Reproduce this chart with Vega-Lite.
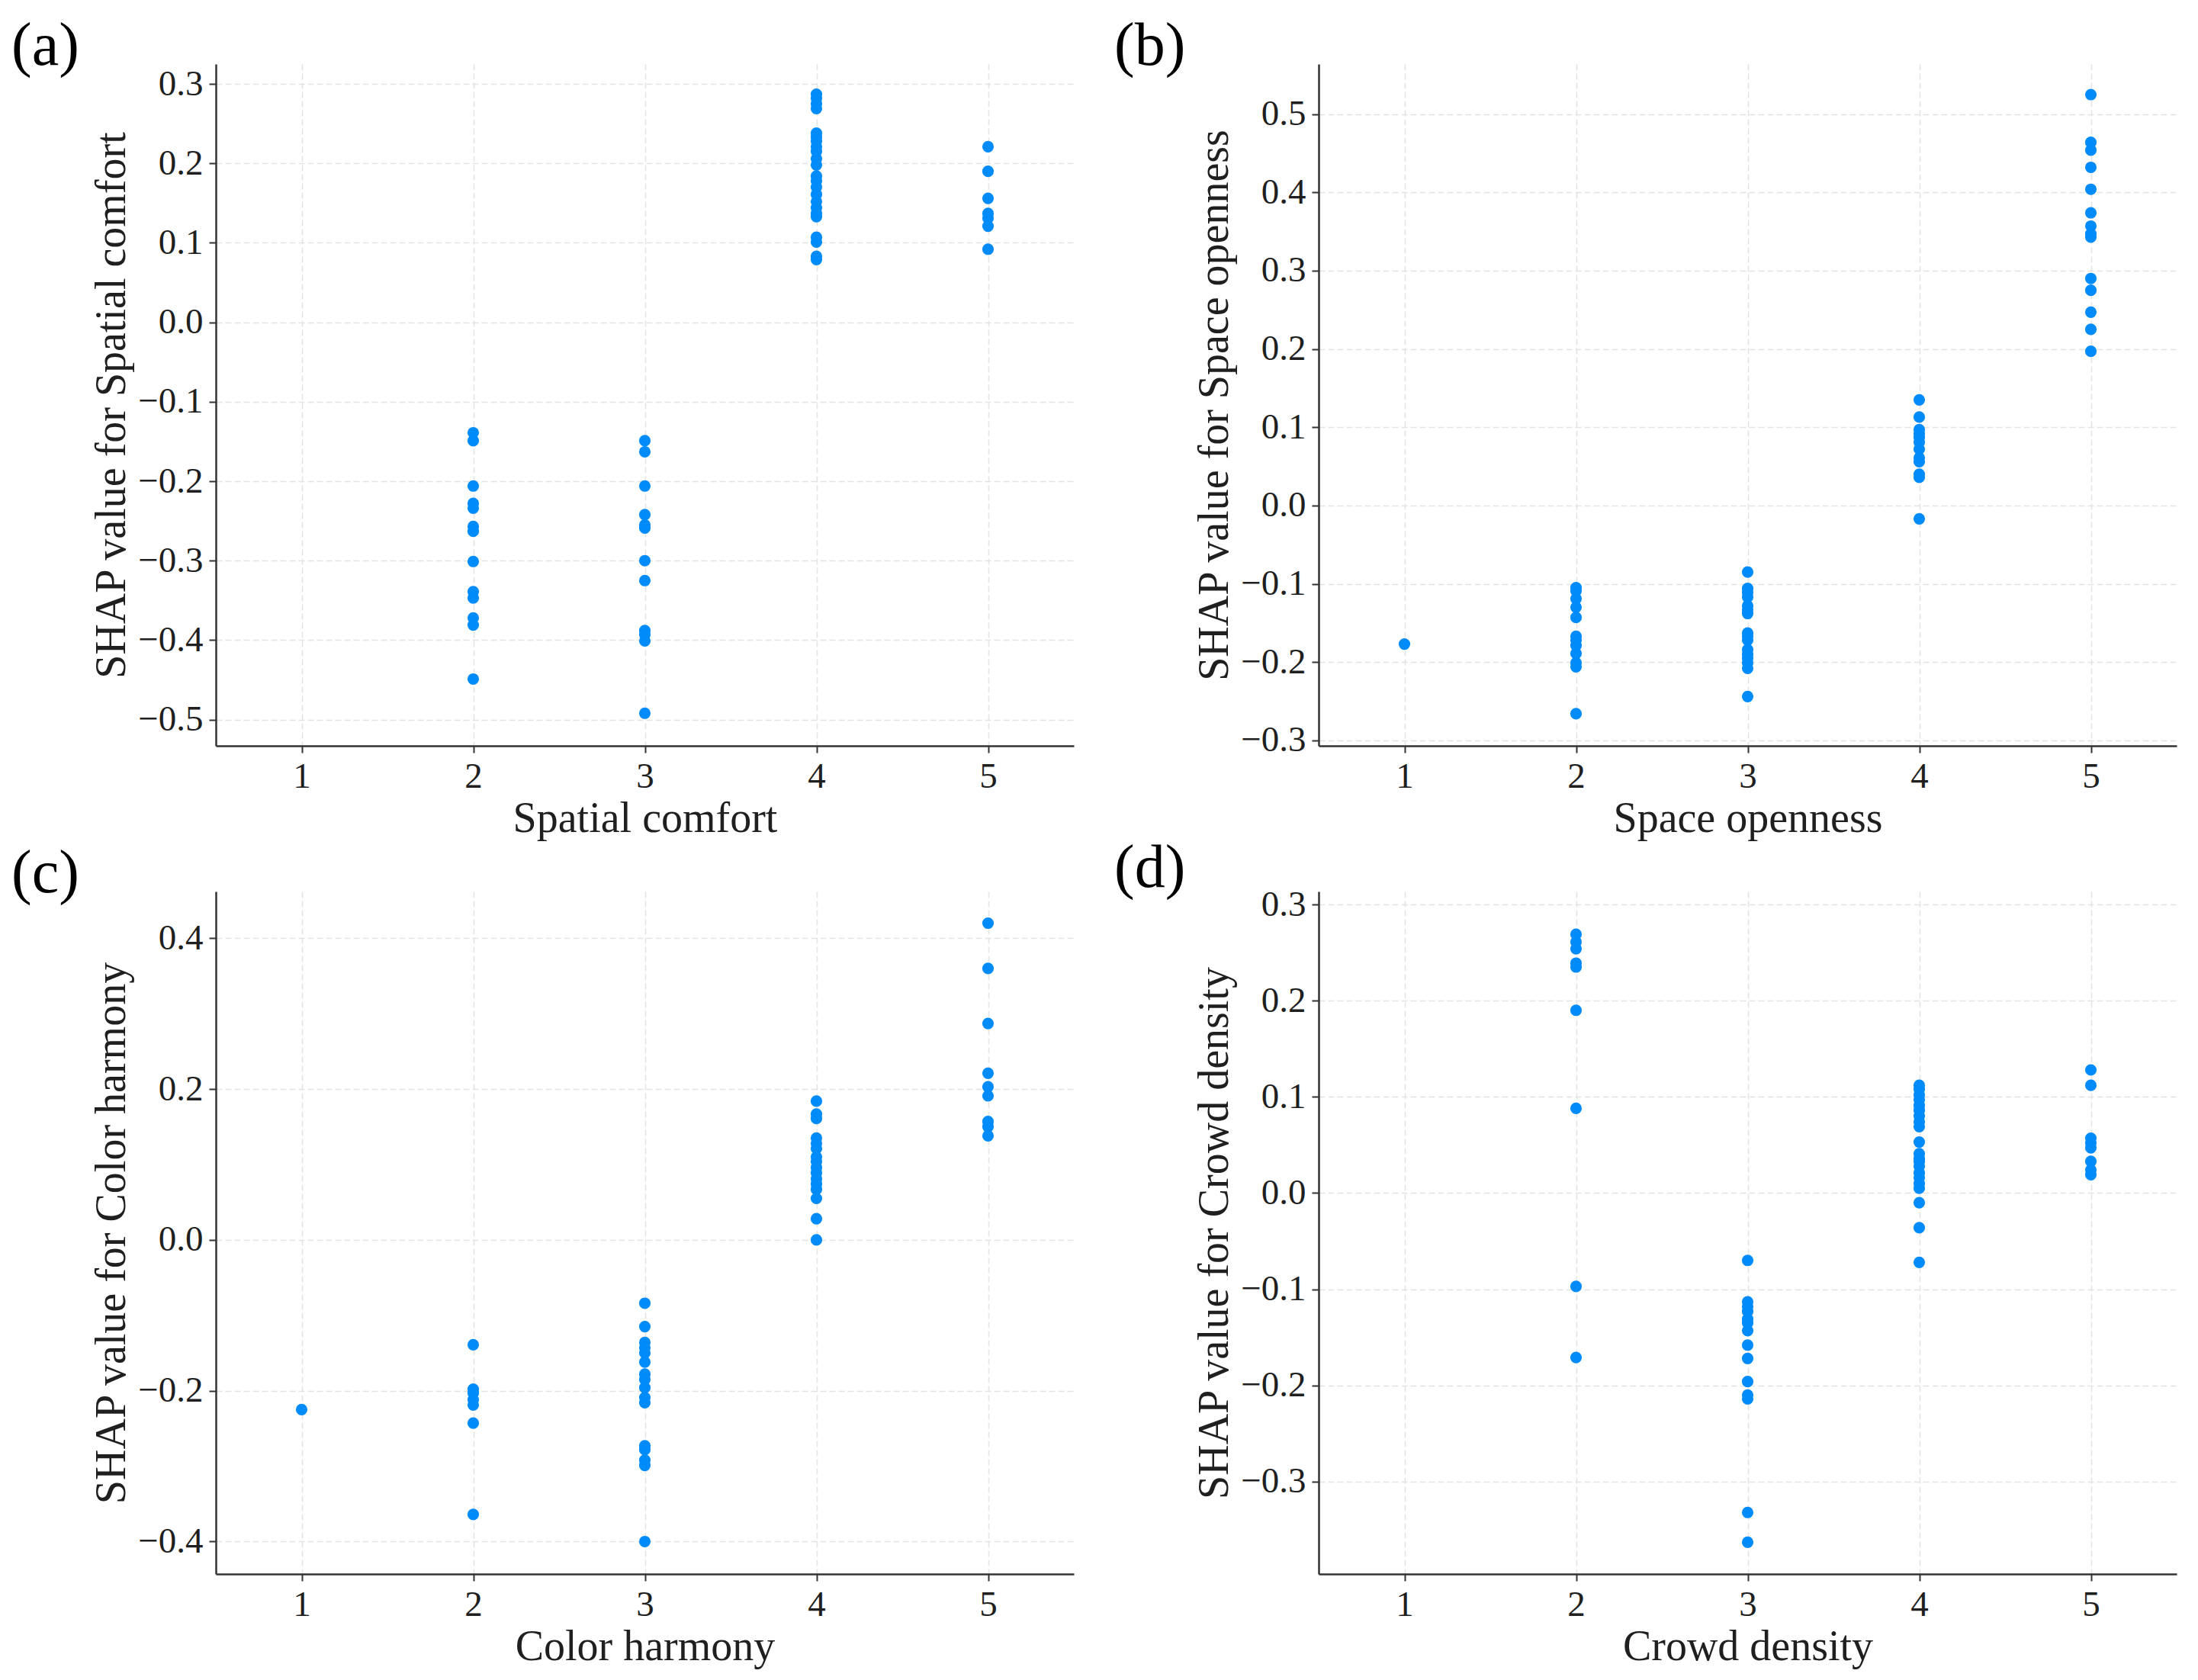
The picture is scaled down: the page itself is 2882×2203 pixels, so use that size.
{
  "$schema": "https://vega.github.io/schema/vega-lite/v6.json",
  "background": "white",
  "padding": {"left": 15, "top": 21, "right": 20, "bottom": 10},
  "config": {
    "font": "Liberation Serif",
    "view": {"stroke": null},
    "axis": {
      "labelFont": "Liberation Serif",
      "labelFontSize": 47,
      "labelColor": "#1f1f1f",
      "labelPadding": 8,
      "titleFont": "Liberation Serif",
      "titleFontSize": 56,
      "titleFontWeight": "normal",
      "titleColor": "#1f1f1f",
      "titlePadding": 5,
      "domainColor": "#333333",
      "domainWidth": 2.5,
      "tickColor": "#333333",
      "tickWidth": 2,
      "tickSize": 9,
      "grid": true,
      "gridColor": "#e3e3e3",
      "gridDash": [8, 4],
      "gridWidth": 1.5
    },
    "title": {
      "font": "Liberation Serif",
      "fontSize": 80,
      "fontWeight": "normal",
      "color": "#000000",
      "anchor": "start",
      "frame": "group",
      "baseline": "alphabetic",
      "offset": -18,
      "dx": -268
    },
    "circle": {"size": 230, "color": "#008bfb", "opacity": 1}
  },
  "datasets": {
    "a": [
      {"level": 2, "shap": -0.139}, {"level": 2, "shap": -0.149}, {"level": 2, "shap": -0.206},
      {"level": 2, "shap": -0.228}, {"level": 2, "shap": -0.234}, {"level": 2, "shap": -0.257},
      {"level": 2, "shap": -0.263}, {"level": 2, "shap": -0.301}, {"level": 2, "shap": -0.339},
      {"level": 2, "shap": -0.347}, {"level": 2, "shap": -0.372}, {"level": 2, "shap": -0.381},
      {"level": 2, "shap": -0.449},
      {"level": 3, "shap": -0.149}, {"level": 3, "shap": -0.163}, {"level": 3, "shap": -0.206},
      {"level": 3, "shap": -0.242}, {"level": 3, "shap": -0.255}, {"level": 3, "shap": -0.259},
      {"level": 3, "shap": -0.300}, {"level": 3, "shap": -0.325}, {"level": 3, "shap": -0.388},
      {"level": 3, "shap": -0.393}, {"level": 3, "shap": -0.401}, {"level": 3, "shap": -0.492},
      {"level": 4, "shap": 0.287}, {"level": 4, "shap": 0.282}, {"level": 4, "shap": 0.275},
      {"level": 4, "shap": 0.269}, {"level": 4, "shap": 0.238}, {"level": 4, "shap": 0.233},
      {"level": 4, "shap": 0.228}, {"level": 4, "shap": 0.221}, {"level": 4, "shap": 0.215},
      {"level": 4, "shap": 0.206}, {"level": 4, "shap": 0.198}, {"level": 4, "shap": 0.184},
      {"level": 4, "shap": 0.178}, {"level": 4, "shap": 0.170}, {"level": 4, "shap": 0.161},
      {"level": 4, "shap": 0.152}, {"level": 4, "shap": 0.144}, {"level": 4, "shap": 0.137},
      {"level": 4, "shap": 0.133}, {"level": 4, "shap": 0.107}, {"level": 4, "shap": 0.101},
      {"level": 4, "shap": 0.083}, {"level": 4, "shap": 0.079},
      {"level": 5, "shap": 0.221}, {"level": 5, "shap": 0.190}, {"level": 5, "shap": 0.156},
      {"level": 5, "shap": 0.137}, {"level": 5, "shap": 0.131}, {"level": 5, "shap": 0.121},
      {"level": 5, "shap": 0.092}
    ],
    "b": [
      {"level": 1, "shap": -0.177},
      {"level": 2, "shap": -0.105}, {"level": 2, "shap": -0.109}, {"level": 2, "shap": -0.119},
      {"level": 2, "shap": -0.130}, {"level": 2, "shap": -0.143}, {"level": 2, "shap": -0.167},
      {"level": 2, "shap": -0.172}, {"level": 2, "shap": -0.179}, {"level": 2, "shap": -0.189},
      {"level": 2, "shap": -0.201}, {"level": 2, "shap": -0.206}, {"level": 2, "shap": -0.266},
      {"level": 3, "shap": -0.085}, {"level": 3, "shap": -0.106}, {"level": 3, "shap": -0.111},
      {"level": 3, "shap": -0.117}, {"level": 3, "shap": -0.128}, {"level": 3, "shap": -0.133},
      {"level": 3, "shap": -0.138}, {"level": 3, "shap": -0.163}, {"level": 3, "shap": -0.167},
      {"level": 3, "shap": -0.172}, {"level": 3, "shap": -0.184}, {"level": 3, "shap": -0.190},
      {"level": 3, "shap": -0.195}, {"level": 3, "shap": -0.201}, {"level": 3, "shap": -0.208},
      {"level": 3, "shap": -0.244},
      {"level": 4, "shap": 0.135}, {"level": 4, "shap": 0.113}, {"level": 4, "shap": 0.097},
      {"level": 4, "shap": 0.092}, {"level": 4, "shap": 0.087}, {"level": 4, "shap": 0.081},
      {"level": 4, "shap": 0.072}, {"level": 4, "shap": 0.061}, {"level": 4, "shap": 0.056},
      {"level": 4, "shap": 0.040}, {"level": 4, "shap": 0.036}, {"level": 4, "shap": -0.017},
      {"level": 5, "shap": 0.525}, {"level": 5, "shap": 0.464}, {"level": 5, "shap": 0.454},
      {"level": 5, "shap": 0.432}, {"level": 5, "shap": 0.404}, {"level": 5, "shap": 0.374},
      {"level": 5, "shap": 0.357}, {"level": 5, "shap": 0.347}, {"level": 5, "shap": 0.343},
      {"level": 5, "shap": 0.290}, {"level": 5, "shap": 0.275}, {"level": 5, "shap": 0.247},
      {"level": 5, "shap": 0.225}, {"level": 5, "shap": 0.197}
    ],
    "c": [
      {"level": 1, "shap": -0.225},
      {"level": 2, "shap": -0.139}, {"level": 2, "shap": -0.198}, {"level": 2, "shap": -0.203},
      {"level": 2, "shap": -0.212}, {"level": 2, "shap": -0.219}, {"level": 2, "shap": -0.243},
      {"level": 2, "shap": -0.364},
      {"level": 3, "shap": -0.084}, {"level": 3, "shap": -0.115}, {"level": 3, "shap": -0.136},
      {"level": 3, "shap": -0.143}, {"level": 3, "shap": -0.150}, {"level": 3, "shap": -0.162},
      {"level": 3, "shap": -0.178}, {"level": 3, "shap": -0.185}, {"level": 3, "shap": -0.196},
      {"level": 3, "shap": -0.209}, {"level": 3, "shap": -0.216}, {"level": 3, "shap": -0.273},
      {"level": 3, "shap": -0.278}, {"level": 3, "shap": -0.292}, {"level": 3, "shap": -0.299},
      {"level": 3, "shap": -0.400},
      {"level": 4, "shap": 0.184}, {"level": 4, "shap": 0.167}, {"level": 4, "shap": 0.161},
      {"level": 4, "shap": 0.135}, {"level": 4, "shap": 0.128}, {"level": 4, "shap": 0.121},
      {"level": 4, "shap": 0.110}, {"level": 4, "shap": 0.104}, {"level": 4, "shap": 0.096},
      {"level": 4, "shap": 0.089}, {"level": 4, "shap": 0.081}, {"level": 4, "shap": 0.074},
      {"level": 4, "shap": 0.067}, {"level": 4, "shap": 0.055}, {"level": 4, "shap": 0.028},
      {"level": 4, "shap": 0.000},
      {"level": 5, "shap": 0.420}, {"level": 5, "shap": 0.360}, {"level": 5, "shap": 0.287},
      {"level": 5, "shap": 0.221}, {"level": 5, "shap": 0.203}, {"level": 5, "shap": 0.191},
      {"level": 5, "shap": 0.157}, {"level": 5, "shap": 0.150}, {"level": 5, "shap": 0.138}
    ],
    "d": [
      {"level": 2, "shap": 0.269}, {"level": 2, "shap": 0.261}, {"level": 2, "shap": 0.254},
      {"level": 2, "shap": 0.239}, {"level": 2, "shap": 0.235}, {"level": 2, "shap": 0.190},
      {"level": 2, "shap": 0.088}, {"level": 2, "shap": -0.097}, {"level": 2, "shap": -0.171},
      {"level": 3, "shap": -0.070}, {"level": 3, "shap": -0.113}, {"level": 3, "shap": -0.118},
      {"level": 3, "shap": -0.123}, {"level": 3, "shap": -0.131}, {"level": 3, "shap": -0.135},
      {"level": 3, "shap": -0.143}, {"level": 3, "shap": -0.158}, {"level": 3, "shap": -0.172},
      {"level": 3, "shap": -0.196}, {"level": 3, "shap": -0.210}, {"level": 3, "shap": -0.214},
      {"level": 3, "shap": -0.332}, {"level": 3, "shap": -0.363},
      {"level": 4, "shap": 0.112}, {"level": 4, "shap": 0.108}, {"level": 4, "shap": 0.102},
      {"level": 4, "shap": 0.097}, {"level": 4, "shap": 0.091}, {"level": 4, "shap": 0.086},
      {"level": 4, "shap": 0.080}, {"level": 4, "shap": 0.074}, {"level": 4, "shap": 0.069},
      {"level": 4, "shap": 0.053}, {"level": 4, "shap": 0.041}, {"level": 4, "shap": 0.036},
      {"level": 4, "shap": 0.033}, {"level": 4, "shap": 0.028}, {"level": 4, "shap": 0.021},
      {"level": 4, "shap": 0.016}, {"level": 4, "shap": 0.010}, {"level": 4, "shap": 0.005},
      {"level": 4, "shap": -0.010}, {"level": 4, "shap": -0.036}, {"level": 4, "shap": -0.072},
      {"level": 5, "shap": 0.128}, {"level": 5, "shap": 0.112}, {"level": 5, "shap": 0.057},
      {"level": 5, "shap": 0.052}, {"level": 5, "shap": 0.047}, {"level": 5, "shap": 0.033},
      {"level": 5, "shap": 0.024}, {"level": 5, "shap": 0.019}
    ]
  },
  "columns": 2,
  "spacing": {"row": -2, "column": 53},
  "concat": [
    {
      "title": {"text": "(a)"},
      "data": {"name": "a"},
      "width": 1125,
      "height": 894,
      "mark": "circle",
      "encoding": {
        "x": {"field": "level", "type": "quantitative", "title": "Spatial comfort",
              "scale": {"domain": [0.5, 5.5], "nice": false, "zero": false},
              "axis": {"values": [1, 2, 3, 4, 5], "format": "d"}},
        "y": {"field": "shap", "type": "quantitative", "title": "SHAP value for Spatial comfort",
              "scale": {"domain": [-0.533, 0.325], "nice": false, "zero": false},
              "axis": {"values": [-0.5, -0.4, -0.3, -0.2, -0.1, 0, 0.1, 0.2, 0.3], "format": ".1f"}}
      }
    },
    {
      "title": {"text": "(b)"},
      "data": {"name": "b"},
      "width": 1125,
      "height": 894,
      "mark": "circle",
      "encoding": {
        "x": {"field": "level", "type": "quantitative", "title": "Space openness",
              "scale": {"domain": [0.5, 5.5], "nice": false, "zero": false},
              "axis": {"values": [1, 2, 3, 4, 5], "format": "d"}},
        "y": {"field": "shap", "type": "quantitative", "title": "SHAP value for Space openness",
              "scale": {"domain": [-0.307, 0.564], "nice": false, "zero": false},
              "axis": {"values": [-0.3, -0.2, -0.1, 0, 0.1, 0.2, 0.3, 0.4, 0.5], "format": ".1f"}}
      }
    },
    {
      "title": {"text": "(c)"},
      "data": {"name": "c"},
      "width": 1125,
      "height": 895,
      "mark": "circle",
      "encoding": {
        "x": {"field": "level", "type": "quantitative", "title": "Color harmony",
              "scale": {"domain": [0.5, 5.5], "nice": false, "zero": false},
              "axis": {"values": [1, 2, 3, 4, 5], "format": "d"}},
        "y": {"field": "shap", "type": "quantitative", "title": "SHAP value for Color harmony",
              "scale": {"domain": [-0.443, 0.462], "nice": false, "zero": false},
              "axis": {"values": [-0.4, -0.2, 0, 0.2, 0.4], "format": ".1f"}}
      }
    },
    {
      "title": {"text": "(d)"},
      "data": {"name": "d"},
      "width": 1125,
      "height": 895,
      "mark": "circle",
      "encoding": {
        "x": {"field": "level", "type": "quantitative", "title": "Crowd density",
              "scale": {"domain": [0.5, 5.5], "nice": false, "zero": false},
              "axis": {"values": [1, 2, 3, 4, 5], "format": "d"}},
        "y": {"field": "shap", "type": "quantitative", "title": "SHAP value for Crowd density",
              "scale": {"domain": [-0.396, 0.3135], "nice": false, "zero": false},
              "axis": {"values": [-0.3, -0.2, -0.1, 0, 0.1, 0.2, 0.3], "format": ".1f"}}
      }
    }
  ]
}
